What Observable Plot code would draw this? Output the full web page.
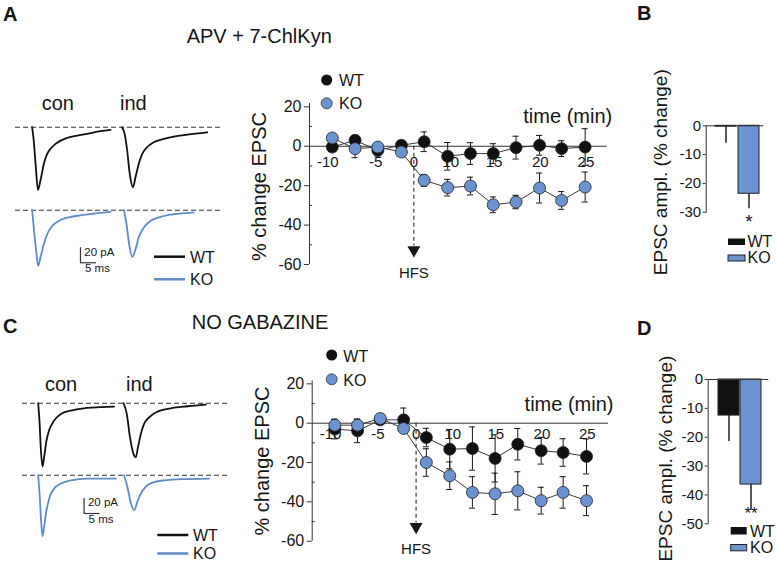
<!DOCTYPE html>
<html>
<head>
<meta charset="utf-8">
<script src="https://cdn.jsdelivr.net/npm/d3@7"></script>
<script src="https://cdn.jsdelivr.net/npm/@observablehq/plot@0.6"></script>
<style>
  body { margin: 0; background: #fff; }
  #fig { position: relative; width: 777px; height: 563px; overflow: hidden; background: #fff;
         font-family: "Liberation Sans", Arial, Helvetica, sans-serif; }
  #fig > .p { position: absolute; }
  #fig svg { overflow: visible; }
</style>
</head>
<body>
<div id="fig"></div>
<script>
// ---------------- DATA ----------------
const groups = ["WT", "KO"];
const timeMin = [-9.4, -6.3, -3.2, 0, 3.1, 6.3, 9.4, 12.5, 15.6, 18.8, 21.8, 25];
const xTickValues = [-10, -3.5, 1.7, 6.7, 12.6, 18.9, 25.1];
const xTickLabels = ["-10", "-5", "0", "10", "15", "20", "25"];
const yTickValues = [20, 0, -20, -40, -60];
const yMinorTicks = [10, -10, -30, -50];
const hfsTime = 1.7;

// Panel A (APV + 7-ChlKyn) % change EPSC
const aWtMean = [-0.4, 3, -2, 0.5, 2.3, -5.1, -3.7, -3.7, -0.7, 0.5, -1.2, -0.4];
const aWtSem  = [1.5, 2.5, 3, 2, 5, 7, 5.5, 5, 5.8, 5, 4, 9.3];
const aKoMean = [4.2, -1.2, -0.4, -2.9, -17.3, -21, -20.2, -29.7, -28.3, -21.2, -27.5, -20.7];
const aKoSem  = [2, 4.6, 2, 2, 3, 4.2, 4.5, 4, 3.4, 7.6, 4.5, 7.6];
// Panel C (NO GABAZINE)
const cWtMean = [-3, -3.9, 1.7, 1.7, -7.3, -13.2, -12.9, -17.9, -10.7, -14, -14.9, -16.9];
const cWtSem  = [5, 6, 2, 6, 4.7, 10, 11, 12, 8, 6.8, 7, 8.9];
const cKoMean = [-1, -1, 2.4, -2.7, -20, -26.7, -35.2, -35.9, -34.4, -39.4, -35.2, -39.4];
const cKoSem  = [3, 3, 2, 2, 7, 7, 8, 10.5, 9.7, 6.8, 8, 7.6];

// Panels B and D: EPSC ampl. (% change)
const bMean = [-0.3, -23.6];
const bSem  = [5.8, 5.2];
const bStars = ["", "*"];
const bTicks = [0, -10, -20, -30];
const dMean = [-12.5, -36.4];
const dSem  = [9, 8.8];
const dStars = ["", "**"];
const dTicks = [0, -10, -20, -30, -40, -50];

// Example EPSC traces (ms, pA)
const aWtConMs = [5.2, 5.7, 6.35, 7.0, 7.8, 8.85, 9.9, 10.9, 12.5, 14.1, 16.2, 19.3, 22.4, 26.6, 29.7];
const aWtConPa = [0, -17.8, -53, -83.6, -71, -49, -35.6, -28.9, -22.2, -17.8, -14.2, -11.1, -8.9, -5.3, -3.6];
const aWtIndMs = [33.3, 34.1, 34.9, 35.7, 36.7, 37.5, 38.5, 39.6, 41.1, 43.2, 46.4, 49.5, 53.7, 59.9];
const aWtIndPa = [0, -8.9, -31, -62, -80, -66.7, -49, -35.6, -26.7, -20, -15.6, -12.4, -9.8, -6.7];
const aKoConMs = [5.2, 5.7, 6.45, 7.1, 7.8, 8.85, 9.9, 11.5, 13.5, 16.2, 20.3, 24.5, 29.7];
const aKoConPa = [0, -23, -54, -74.2, -63, -45, -32, -20.9, -14.2, -9.8, -6.7, -4.4, -2.2];
const aKoIndMs = [33.9, 34.7, 35.5, 36.5, 37.5, 38.5, 40.1, 42.2, 45.3, 49.5, 55.7];
const aKoIndPa = [0, -18.7, -45, -62.2, -52, -36.4, -23.1, -14.2, -8.9, -5.3, -3.1];
const cWtConMs = [4.9, 5.3, 5.7, 6.25, 6.75, 7.5, 8.3, 9.9, 12, 15.1, 19.25, 24.5, 28.6];
const cWtConPa = [0, -23, -58.7, -84.4, -72, -49.8, -36.4, -23.1, -14.2, -9.8, -6.7, -5.3, -4.4];
const cWtIndMs = [31.6, 32.6, 33.6, 34.7, 35.4, 36.1, 37, 38, 39.6, 42.2, 46.3, 51.6, 57.3];
const cWtIndPa = [0, -14.2, -45.3, -67.6, -72, -58.7, -40.9, -27.6, -18.7, -11.1, -6.7, -4, -1.8];
const cKoConMs = [4.9, 5.4, 5.8, 6.25, 6.75, 7.5, 8.5, 9.9, 12, 15.1, 20.3, 29.2];
const cKoConPa = [0, -28.9, -60, -81.3, -68.9, -46.7, -28.9, -17.8, -11.1, -6.7, -4.4, -4.4];
const cKoIndMs = [31.75, 32.8, 33.8, 34.9, 35.9, 37, 38.5, 40.6, 44.3, 49.5, 58.3];
const cKoIndPa = [0, -15.6, -35.6, -46.7, -35.6, -24.4, -15.6, -9.8, -6.7, -5.3, -4.4];

// ---------------- STYLE / HELPERS ----------------
const FONT = '"Liberation Sans", Arial, Helvetica, sans-serif';
const INK = "#161616";
const BLUE = "#6b93d2";
const TRACE_BLUE = "#5b8bd3";
const xDomain = [-12.5, 28];
const CAP = 0.42;
const HFS_Y = -53.5;
const baseStyle = {fontFamily: FONT, background: "transparent", overflow: "visible", color: INK};
const fig = document.getElementById("fig");
function place(node, left, top) {
  const d = document.createElement("div");
  d.className = "p";
  d.style.left = left + "px";
  d.style.top = top + "px";
  d.appendChild(node);
  fig.appendChild(d);
}
const downTriangle = {
  draw(ctx, size) {
    const r = Math.sqrt(size / Math.PI);
    ctx.moveTo(-r, -0.85 * r);
    ctx.lineTo(r, -0.85 * r);
    ctx.lineTo(0, 0.9 * r);
    ctx.closePath();
  }
};

function timeCourse(cfg) {
  const mk = (g, mean, sem) => timeMin.map((t, i) => ({g, t, m: mean[i], e: sem[i]}));
  const wt = mk("WT", cfg.wtMean, cfg.wtSem);
  const ko = mk("KO", cfg.koMean, cfg.koSem);
  const series = (R, fill) => [
    Plot.line(R, {x: "t", y: "m", stroke: "#3a3a3a", strokeWidth: 1}),
    Plot.ruleX(R, {x: "t", y1: d => d.m - d.e, y2: d => d.m + d.e, stroke: INK, strokeWidth: 1}),
    Plot.ruleY(R, {y: d => d.m + d.e, x1: d => d.t - CAP, x2: d => d.t + CAP, stroke: INK}),
    Plot.ruleY(R, {y: d => d.m - d.e, x1: d => d.t - CAP, x2: d => d.t + CAP, stroke: INK}),
    Plot.dot(R, {x: "t", y: "m", r: 6, fill, stroke: "#222", strokeWidth: 0.8})
  ];
  return Plot.plot({
    width: cfg.width, height: cfg.height,
    marginLeft: cfg.mL, marginRight: cfg.mR, marginTop: cfg.mT, marginBottom: cfg.mB,
    style: baseStyle,
    x: {domain: xDomain, axis: null},
    y: {domain: [-60, cfg.yTop]},
    marks: [
      Plot.ruleX([xDomain[0]], {y1: -60, y2: cfg.yTop, stroke: "#333"}),
      Plot.axisY(yTickValues, {tickSize: 5, tickPadding: 3, fontSize: 16, tickFormat: d => String(d), label: null, stroke: "#333"}),
      Plot.axisY(yMinorTicks, {tickSize: -3, tickFormat: () => "", label: null, stroke: "#333"}),
      Plot.ruleY([0], {stroke: "#333"}),
      Plot.text(xTickValues, {x: d => d, y: 0, text: (d, i) => xTickLabels[i], dy: cfg.tickDy, fontSize: 15}),
      Plot.text(["time (min)"], {x: xDomain[1], y: 0, text: d => d, textAnchor: "end", dx: 5, dy: cfg.timeDy, fontSize: 20}),
      Plot.text(["% change EPSC"], {frameAnchor: "left", textAnchor: "middle", rotate: -90, text: d => d, dx: -50, dy: cfg.labelDy, fontSize: 20}),
      Plot.ruleX([hfsTime], {y1: 0, y2: HFS_Y + 2.8, stroke: INK, strokeDasharray: "4,3"}),
      Plot.dot([hfsTime], {x: d => d, y: HFS_Y, r: 6.5, symbol: downTriangle, fill: INK, stroke: "none"}),
      Plot.text(["HFS"], {x: hfsTime, y: HFS_Y, text: d => d, dy: 21, fontSize: 15}),
      ...series(wt, "#111"),
      ...series(ko, BLUE)
    ]
  });
}

function tracePlot(cfg) {
  const marks = [Plot.ruleY([0], {stroke: "#333", strokeDasharray: "5,3"})];
  for (const [ms, pa] of cfg.traces) {
    const rows = ms.map((t, i) => ({t, v: pa[i]}));
    marks.push(Plot.line(rows, {x: "t", y: "v", stroke: cfg.color, strokeWidth: 1.8, curve: "monotone-x"}));
  }
  if (cfg.sb) {
    const s = cfg.sb;
    marks.push(
      Plot.ruleX([s.t0], {y1: s.y0, y2: s.y0 + 20, stroke: "#333", strokeWidth: 1.2}),
      Plot.ruleY([s.y0], {x1: s.t0, x2: s.t0 + 5, stroke: "#333", strokeWidth: 1.2}),
      Plot.text(["20 pA"], {x: s.t0 + 1.2, y: s.y0 + 14.3, text: d => d, textAnchor: "start", fontSize: 11.5}),
      Plot.text(["5 ms"], {x: s.t0 + 5.3, y: s.y0 - 8, text: d => d, fontSize: 11.5})
    );
  }
  return Plot.plot({
    width: cfg.width, height: 75, margin: 0,
    style: baseStyle,
    x: {domain: [0, cfg.xMax], axis: null},
    y: {domain: [-91, 9], axis: null},
    marks
  });
}

function barPanel(cfg) {
  const rows = groups.map((g, i) => ({g, m: cfg.mean[i], e: cfg.sem[i], s: cfg.stars[i]}));
  return Plot.plot({
    width: cfg.width, height: cfg.height,
    marginLeft: cfg.mL, marginRight: cfg.mR, marginTop: cfg.mT, marginBottom: cfg.mB,
    style: baseStyle,
    x: {domain: groups, axis: null, paddingInner: cfg.pi, paddingOuter: cfg.po, align: cfg.align},
    y: {domain: [cfg.yMin, 0]},
    color: {type: "identity"},
    marks: [
      Plot.barY(rows, {x: "g", y1: 0, y2: "m", fill: d => d.g === "WT" ? "#111" : BLUE, stroke: "#222", strokeWidth: 1}),
      Plot.ruleX(rows, {x: "g", y1: "m", y2: d => d.m - d.e, stroke: "#222", strokeWidth: 1.5}),
      Plot.ruleY([0], {stroke: "#333"}),
      Plot.frame({anchor: "left", stroke: "#333"}),
      Plot.axisY(cfg.ticks, {tickSize: 3, tickPadding: 2, fontSize: 15, tickFormat: d => String(d), label: null, stroke: "#333"}),
      Plot.text(["EPSC ampl. (% change)"], {frameAnchor: "left", textAnchor: "middle", rotate: -90, text: d => d, dx: cfg.labelDx, dy: cfg.labelDy, fontSize: 19}),
      Plot.text(rows, {x: "g", y: d => d.m - d.e, text: "s", dy: cfg.starDy, fontSize: cfg.starSize})
    ]
  });
}

// ---------------- BUILD ----------------
place(tracePlot({width: 208, xMax: 65, color: "#111",
  traces: [[aWtConMs, aWtConPa], [aWtIndMs, aWtIndPa]]}), 15, 120);
place(tracePlot({width: 208, xMax: 65, color: TRACE_BLUE,
  traces: [[aKoConMs, aKoConPa], [aKoIndMs, aKoIndPa]], sb: {t0: 20.3, y0: -70}}), 15, 202.5);
place(tracePlot({width: 206, xMax: 64.4, color: "#111",
  traces: [[cWtConMs, cWtConPa], [cWtIndMs, cWtIndPa]]}), 22, 396);
place(tracePlot({width: 206, xMax: 64.4, color: TRACE_BLUE,
  traces: [[cKoConMs, cKoConPa], [cKoIndMs, cKoIndPa]], sb: {t0: 19.25, y0: -51}}), 22, 468.2);

place(timeCourse({wtMean: aWtMean, wtSem: aWtSem, koMean: aKoMean, koSem: aKoSem,
  width: 375, height: 230, mL: 69, mR: 8.3, mT: 43, mB: 26, yTop: 21.7,
  tickDy: 16, timeDy: -30, labelDy: 2.5}), 240, 60);
place(timeCourse({wtMean: cWtMean, wtSem: cWtSem, koMean: cKoMean, koSem: cKoSem,
  width: 375, height: 228, mL: 71.7, mR: 7, mT: 45.4, mB: 22.3, yTop: 21.5,
  tickDy: 11, timeDy: -19, labelDy: 0}), 240, 335);

place(barPanel({mean: bMean, sem: bSem, stars: bStars, ticks: bTicks, yMin: -30,
  width: 137, height: 230, mL: 65.7, mR: 13.7, mT: 70.3, mB: 73.3,
  pi: 0.0833, po: 0.2417, align: 0.655, labelDx: -45, labelDy: 3.2, starDy: 13, starSize: 19}), 640, 55);
place(barPanel({mean: dMean, sem: dSem, stars: dStars, ticks: dTicks, yMin: -50,
  width: 137, height: 223, mL: 67.7, mR: 8.7, mT: 39, mB: 39.7,
  pi: 0.031, po: 0.35, align: 0.604, labelDx: -42, labelDy: 7, starDy: 4, starSize: 17}), 640, 340);

// ---------------- ANNOTATION OVERLAY ----------------
const ov = d3.select(fig).append("svg")
  .attr("width", 777).attr("height", 563)
  .style("position", "absolute").style("left", "0px").style("top", "0px")
  .style("pointer-events", "none")
  .style("font-family", FONT).attr("fill", INK);
function txt(x, y, s, size, weight) {
  ov.append("text").attr("x", x).attr("y", y).attr("font-size", size)
    .attr("font-weight", weight || "normal").text(s);
}
function line(x1, y1, x2, y2, color, w) {
  ov.append("line").attr("x1", x1).attr("y1", y1).attr("x2", x2).attr("y2", y2)
    .attr("stroke", color).attr("stroke-width", w);
}
// panel letters and titles
txt(3, 20.7, "A", 20, "bold");
txt(637, 20, "B", 20, "bold");
txt(3, 333, "C", 20, "bold");
txt(637, 335, "D", 20, "bold");
txt(186.7, 43.3, "APV + 7-ChlKyn", 20);
txt(191.7, 329.3, "NO GABAZINE", 20);
txt(41.7, 110, "con", 20); txt(120, 110, "ind", 20);
txt(45, 390.7, "con", 20); txt(126, 390.7, "ind", 20);
// trace legends
line(154, 256.7, 185, 256.7, "#111", 2.5); txt(190, 262.5, "WT", 16);
line(154, 279.3, 185, 279.3, TRACE_BLUE, 2.5); txt(190, 285, "KO", 16);
line(157.3, 535, 188.3, 535, "#111", 2.5); txt(193, 541, "WT", 16);
line(157.3, 553.5, 188.3, 553.5, TRACE_BLUE, 2.5); txt(193, 559.3, "KO", 16);
// dot legends
ov.append("circle").attr("cx", 326.7).attr("cy", 80).attr("r", 5.5).attr("fill", "#111");
txt(339, 86, "WT", 16);
ov.append("circle").attr("cx", 326.7).attr("cy", 103.3).attr("r", 5.5).attr("fill", BLUE).attr("stroke", "#333").attr("stroke-width", 0.8);
txt(339, 109.3, "KO", 16);
ov.append("circle").attr("cx", 331.7).attr("cy", 355).attr("r", 5.5).attr("fill", "#111");
txt(343.3, 361.5, "WT", 16);
ov.append("circle").attr("cx", 331.7).attr("cy", 379.3).attr("r", 5.5).attr("fill", BLUE).attr("stroke", "#333").attr("stroke-width", 0.8);
txt(343.3, 385.5, "KO", 16);
// bar legends
ov.append("rect").attr("x", 728).attr("y", 238.5).attr("width", 17).attr("height", 6.5).attr("fill", "#111");
txt(747.5, 247, "WT", 16);
ov.append("rect").attr("x", 728).attr("y", 255).attr("width", 17).attr("height", 6).attr("fill", BLUE).attr("stroke", "#222").attr("stroke-width", 1);
txt(747.5, 263.3, "KO", 16);
ov.append("rect").attr("x", 730.7).attr("y", 527).attr("width", 16).attr("height", 7.5).attr("fill", "#111");
txt(750, 536.5, "WT", 16);
ov.append("rect").attr("x", 730.7).attr("y", 544.5).attr("width", 16).attr("height", 6.3).attr("fill", BLUE).attr("stroke", "#222").attr("stroke-width", 1);
txt(750, 553, "KO", 16);
</script>
</body>
</html>
